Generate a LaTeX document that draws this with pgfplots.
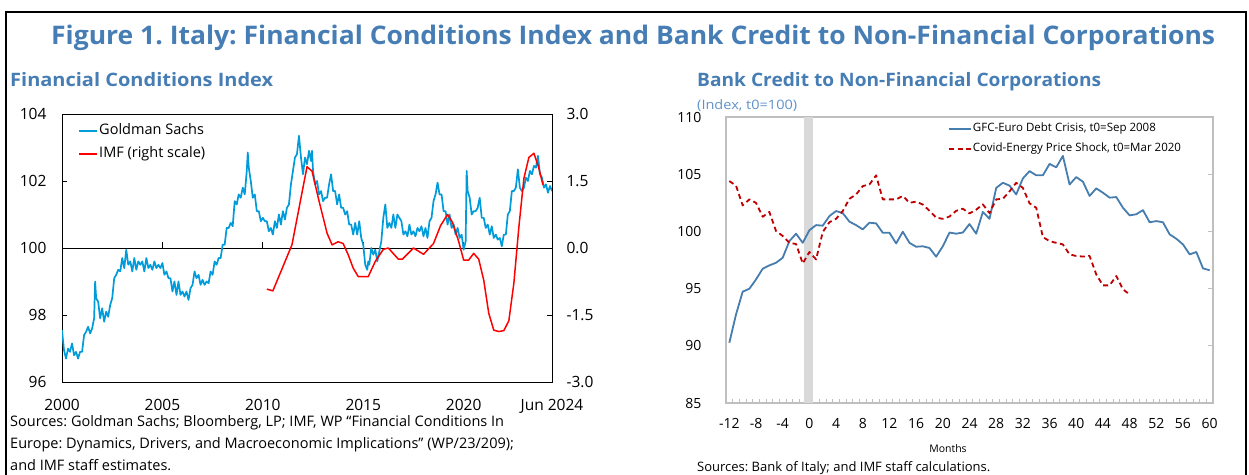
\documentclass[border=0pt]{standalone}
\usepackage{pgfplots}
\pgfplotsset{compat=1.18}
\usepackage{fontspec}
\setmainfont{Open Sans}
\usepackage{graphicx}
\definecolor{titleblue}{RGB}{70,125,180}
\definecolor{lightblue}{RGB}{95,145,200}
\definecolor{gsblue}{RGB}{0,155,218}
\definecolor{imfred}{RGB}{255,0,0}
\definecolor{gfcblue}{RGB}{70,125,175}
\definecolor{covred}{RGB}{192,0,0}
\definecolor{framegray}{RGB}{191,191,191}
\definecolor{bandgray}{RGB}{217,217,217}
\newcommand{\fs}[1]{\fontsize{#1}{#1}\selectfont}
\frenchspacing

\pgfplotstableread{
x y
2000.0 97.55
2000.1 96.95
2000.2 96.7
2000.3 97.0
2000.4 96.9
2000.5 97.15
2000.6 96.8
2000.7 96.9
2000.8 96.7
2000.9 96.9
2001.0 96.9
2001.1 97.4
2001.2 97.5
2001.3 97.65
2001.4 97.45
2001.5 97.6
2001.6 97.9
2001.65 99.0
2001.7 98.5
2001.8 98.4
2001.9 97.9
2002.0 98.2
2002.1 97.8
2002.2 98.1
2002.3 97.95
2002.4 98.3
2002.5 98.5
2002.6 99.1
2002.7 99.2
2002.8 99.35
2002.9 99.3
2003.0 99.7
2003.1 99.4
2003.2 99.95
2003.3 99.5
2003.4 99.6
2003.5 99.3
2003.6 99.7
2003.7 99.35
2003.8 99.6
2003.9 99.5
2004.0 99.6
2004.1 99.3
2004.2 99.7
2004.3 99.4
2004.4 99.5
2004.5 99.35
2004.6 99.6
2004.7 99.4
2004.8 99.5
2004.9 99.4
2005.0 99.55
2005.1 99.2
2005.2 99.3
2005.3 99.1
2005.4 99.1
2005.5 98.7
2005.6 99.0
2005.7 98.6
2005.8 99.0
2005.9 98.6
2006.0 98.7
2006.1 98.55
2006.2 98.7
2006.3 98.45
2006.4 98.8
2006.5 98.9
2006.6 99.3
2006.7 99.1
2006.8 99.2
2006.9 98.9
2007.0 99.05
2007.1 98.9
2007.2 99.0
2007.3 98.95
2007.4 99.3
2007.5 99.2
2007.6 99.6
2007.7 99.5
2007.8 99.7
2007.9 99.7
2008.0 100.1
2008.1 100.1
2008.2 100.6
2008.3 100.6
2008.4 100.75
2008.5 100.65
2008.6 101.4
2008.7 101.3
2008.8 101.6
2008.9 101.5
2009.0 101.8
2009.1 101.6
2009.2 102.3
2009.25 102.85
2009.3 102.4
2009.4 102.0
2009.5 101.5
2009.6 101.6
2009.7 101.1
2009.8 101.1
2009.9 100.8
2010.0 100.9
2010.1 100.8
2010.2 100.8
2010.3 100.5
2010.4 100.6
2010.5 100.4
2010.6 100.8
2010.7 100.6
2010.8 101.0
2010.9 100.7
2011.0 101.1
2011.1 100.85
2011.2 101.2
2011.3 101.3
2011.4 101.9
2011.5 102.3
2011.6 102.7
2011.7 102.8
2011.8 103.35
2011.9 102.7
2012.0 102.2
2012.1 102.7
2012.2 102.5
2012.3 102.9
2012.4 102.6
2012.45 102.9
2012.5 102.3
2012.6 101.9
2012.7 102.0
2012.8 101.6
2012.9 101.7
2013.0 101.4
2013.1 101.5
2013.2 101.5
2013.3 101.9
2013.4 102.2
2013.5 101.7
2013.6 101.7
2013.7 101.3
2013.8 101.6
2013.9 101.2
2014.0 101.2
2014.1 101.0
2014.2 101.1
2014.3 100.7
2014.4 100.7
2014.5 100.4
2014.6 100.75
2014.7 100.4
2014.8 100.8
2014.9 100.3
2015.0 100.1
2015.1 99.5
2015.2 99.35
2015.25 99.6
2015.3 99.5
2015.4 100.0
2015.5 99.8
2015.6 99.95
2015.7 99.6
2015.8 99.9
2015.9 100.2
2016.0 100.9
2016.1 101.3
2016.2 100.6
2016.3 100.75
2016.4 100.6
2016.5 101.0
2016.6 100.6
2016.7 101.0
2016.8 100.9
2016.9 100.8
2017.0 100.4
2017.1 100.5
2017.2 100.35
2017.3 100.7
2017.4 100.4
2017.5 100.5
2017.6 100.35
2017.7 100.6
2017.8 100.5
2017.9 100.65
2018.0 100.35
2018.1 100.6
2018.2 100.3
2018.3 100.8
2018.4 100.9
2018.5 101.4
2018.6 101.6
2018.7 101.95
2018.8 101.6
2018.9 101.6
2019.0 101.1
2019.1 101.1
2019.2 100.7
2019.3 101.0
2019.4 100.6
2019.5 100.7
2019.6 100.4
2019.7 100.6
2019.8 100.3
2019.9 100.4
2020.0 99.95
2020.1 100.2
2020.15 102.3
2020.2 101.7
2020.3 101.5
2020.4 101.0
2020.5 101.1
2020.6 101.1
2020.7 101.2
2020.8 101.5
2020.9 100.9
2021.0 100.9
2021.1 100.6
2021.2 100.7
2021.3 100.4
2021.4 100.65
2021.5 100.3
2021.6 100.4
2021.7 100.25
2021.8 100.3
2021.9 100.05
2022.0 100.4
2022.1 100.4
2022.2 101.0
2022.3 101.1
2022.4 101.7
2022.5 101.7
2022.6 101.8
2022.7 102.35
2022.8 101.8
2022.9 101.7
2023.0 101.8
2023.1 102.1
2023.2 102.0
2023.3 102.3
2023.4 102.2
2023.5 102.45
2023.6 102.4
2023.7 102.75
2023.8 102.2
2023.9 102.1
2024.0 101.8
2024.1 101.9
2024.2 101.65
2024.3 101.85
2024.4 101.7
}\gsdata

\pgfplotstableread{
x y
2010.2 -0.92
2010.5 -0.96
2011.45 0.07
2012.2 1.82
2012.45 1.72
2012.8 1.05
2013.2 0.33
2013.45 0.07
2013.75 0.14
2014.0 0.10
2014.25 -0.15
2014.5 -0.45
2014.75 -0.64
2015.25 -0.64
2015.6 -0.3
2016.0 -0.03
2016.25 0.0
2016.75 -0.25
2016.95 -0.25
2017.5 0.0
2018.0 -0.14
2018.5 0.10
2018.85 0.5
2019.2 0.75
2019.45 0.57
2019.75 0.15
2020.0 -0.27
2020.25 -0.27
2020.5 -0.12
2020.75 -0.25
2021.0 -0.72
2021.25 -1.46
2021.5 -1.84
2021.75 -1.87
2022.0 -1.85
2022.25 -1.63
2022.5 -0.79
2022.75 0.47
2023.0 1.56
2023.25 2.03
2023.5 2.12
2023.75 1.78
2023.95 1.41
}\imfdata

\pgfplotstableread{
x y
-12 90.27
-11 92.74
-10 94.73
-9 94.99
-8 95.8
-7 96.74
-6 97.03
-5 97.26
-4 97.7
-3 99.15
-2 99.8
-1 99.0
0 100.1
1 100.55
2 100.5
3 101.34
4 101.78
5 101.6
6 100.85
7 100.55
8 100.17
9 100.76
10 100.7
11 99.88
12 99.88
13 98.95
14 99.97
15 99.0
16 98.66
17 98.7
18 98.55
19 97.79
20 98.7
21 99.9
22 99.8
23 99.9
24 100.64
25 99.8
26 101.7
27 101.1
28 103.8
29 104.25
30 104.0
31 103.23
32 104.63
33 105.27
34 104.9
35 104.9
36 105.9
37 105.6
38 106.6
39 104.1
40 104.75
41 104.34
42 103.1
43 103.76
44 103.38
45 102.95
46 103.0
47 102.07
48 101.4
49 101.5
50 101.86
51 100.8
52 100.9
53 100.8
54 99.74
55 99.36
56 98.86
57 97.99
58 98.2
59 96.77
60 96.6
}\gfcdata

\pgfplotstableread{
x y
-12 104.4
-11 104.0
-10 102.27
-9 102.8
-8 102.5
-7 101.28
-6 101.7
-5 100.03
-4 99.6
-3 99.0
-2 98.9
-1 97.2
0 98.2
1 97.55
2 99.94
3 100.8
4 101.1
5 101.78
6 102.85
7 103.23
8 103.96
9 104.1
10 104.9
11 102.8
12 102.8
13 102.8
14 103.1
15 102.5
16 102.6
17 102.35
18 101.8
19 101.2
20 101.1
21 101.3
22 101.8
23 101.98
24 101.57
25 101.9
26 102.36
27 101.6
28 102.8
29 102.85
30 103.5
31 104.25
32 103.8
33 102.45
34 102.07
35 99.5
36 99.15
37 99.0
38 98.86
39 97.99
40 97.85
41 97.8
42 97.85
43 96.24
44 95.28
45 95.28
46 96.1
47 94.93
48 94.5
}\coviddata

\begin{document}
\begin{tikzpicture}[x=1pt,y=1pt]
\useasboundingbox (0,0) rectangle (1249,474);
\draw[line width=2pt] (6,-10) -- (6,462) -- (1246,462) -- (1246,-10);
\node[anchor=base west, text=titleblue, font=\bfseries\fs{25.6}, inner sep=0] at (51,429.7) {\resizebox{1164pt}{\height}{Figure 1. Italy: Financial Conditions Index and Bank Credit to Non-Financial Corporations}};
\node[anchor=base west, text=titleblue, font=\bfseries\fs{18.5}, inner sep=0] at (10,387.3) {\resizebox{263pt}{\height}{Financial Conditions Index}};
\node[anchor=base west, text=titleblue, font=\bfseries\fs{18.5}, inner sep=0] at (697,387.3) {\resizebox{404pt}{\height}{Bank Credit to Non-Financial Corporations}};
\node[anchor=base west, text=lightblue, font=\fs{13}, inner sep=0] at (697,364.7) {\resizebox{100pt}{\height}{(Index, t0=100)}};
\node[anchor=base west, font=\fs{14.5}, inner sep=0] at (10,48) {Sources: Goldman Sachs; Bloomberg, LP; IMF, WP “Financial Conditions In};
\node[anchor=base west, font=\fs{14.5}, inner sep=0] at (10,26) {Europe: Dynamics, Drivers, and Macroeconomic Implications” (WP/23/209);};
\node[anchor=base west, font=\fs{14.5}, inner sep=0] at (10,4) {and IMF staff estimates.};
\node[anchor=base west, font=\fs{13}, inner sep=0] at (697,3) {Sources: Bank of Italy; and IMF staff calculations.};
\node[font=\fs{10.5}, inner sep=0] at (948,25) {Months};

% ---------------- left panel, left scale
\begin{axis}[
  at={(62pt,92pt)}, anchor=south west,
  width=490pt, height=268pt, scale only axis,
  xmin=2000, xmax=2024.4, ymin=96, ymax=104,
  ytick={96,98,100,102,104},
  xtick={2000,2005,2010,2015,2020,2024.4},
  xticklabels={2000,2005,2010,2015,2020,Jun 2024},
  major x tick style={draw=none},
  ytick pos=left, tick align=inside,
  major tick length=5pt,
  axis line style={black, line width=0.9pt},
  ytick style={black, line width=0.9pt},
  ticklabel style={font=\fs{15.5}},
  /pgf/number format/assume math mode=true,
  yticklabel style={xshift=-12pt},
  xticklabel style={yshift=-14pt},
]
\draw[black, line width=0.9pt] (axis cs:2000,100) -- (axis cs:2024.4,100);
\draw[black, line width=0.9pt] (axis cs:2005,100) -- ++(0pt,6pt);
\draw[black, line width=0.9pt] (axis cs:2010,100) -- ++(0pt,6pt);
\draw[black, line width=0.9pt] (axis cs:2015,100) -- ++(0pt,6pt);
\draw[black, line width=0.9pt] (axis cs:2020,100) -- ++(0pt,6pt);
\addplot[gsblue, line width=1.7pt, line join=round] table[x=x,y=y] {\gsdata};
\end{axis}

% ---------------- left panel, right scale
\begin{axis}[
  at={(62pt,92pt)}, anchor=south west,
  width=490pt, height=268pt, scale only axis,
  xmin=2000, xmax=2024.4, ymin=-3, ymax=3,
  axis x line=none, axis y line*=right,
  ytick={-3,-1.5,0,1.5,3},
  tick align=inside, major tick length=5pt,
  axis line style={black, line width=0.9pt},
  ytick style={black, line width=0.9pt},
  ticklabel style={font=\fs{15.5}},
  yticklabel style={xshift=11pt, /pgf/number format/.cd, fixed, fixed zerofill, precision=1, assume math mode=true},
  legend style={at={(rel axis cs:0.0327,1)}, anchor=north west, yshift=-8.7pt, draw=none, fill=none, inner sep=0pt, font=\fs{14.5}, row sep=5.6pt, nodes={inner sep=1pt, text height=11pt, text depth=4pt}},
  legend cell align=left,
  legend image code/.code={\draw[#1] (0pt,0pt) -- (18pt,0pt);},
]
\addlegendimage{draw=gsblue, line width=2pt}
\addlegendentry{Goldman Sachs}
\addplot[imfred, line width=1.5pt, line join=round] table[x=x,y=y] {\imfdata};
\addlegendentry{IMF (right scale)}
\end{axis}

% ---------------- right panel
\begin{axis}[
  at={(726pt,71pt)}, anchor=south west,
  width=487pt, height=286pt, scale only axis,
  xmin=-12.5, xmax=60.5, ymin=85, ymax=110,
  ytick={85,90,95,100,105,110},
  xtick={-12,-8,...,60},
  xticklabels={-12,-8,-4,0,4,8,12,16,20,24,28,32,36,40,44,48,52,56,60},
  minor xtick={-11.5,-10.5,...,59.5},
  major x tick style={draw=none},
  minor x tick style={framegray, line width=0.8pt},
  minor tick length=4pt,
  xtick pos=left,
  ytick pos=right, yticklabel pos=left,
  tick align=inside, major tick length=5pt,
  axis line style={framegray, line width=1.2pt},
  ytick style={framegray, line width=1pt},
  ticklabel style={font=\fs{14}},
  /pgf/number format/assume math mode=true,
  yticklabel style={xshift=-21pt},
  xticklabel style={yshift=-12pt},
  legend style={at={(rel axis cs:0.4558,1)}, anchor=north west, yshift=-4.5pt, draw=none, fill=none, inner sep=0pt, font=\fs{11.5}, row sep=6pt, nodes={inner sep=1pt, text height=9pt, text depth=3pt}},
  legend cell align=left,
  legend image code/.code={\draw[#1] (0pt,0pt) -- (22pt,0pt);},
]
\addplot[draw=none, fill=bandgray, forget plot] coordinates {(-0.8,85) (-0.8,110) (0.5,110) (0.5,85)} -- cycle;
\addplot[gfcblue, line width=1.8pt, line join=round] table[x=x,y=y] {\gfcdata};
\addlegendentry{GFC-Euro Debt Crisis, t0=Sep 2008}
\addplot[covred, line width=1.8pt, dash pattern=on 5pt off 3.5pt, line join=round] table[x=x,y=y] {\coviddata};
\addlegendentry{Covid-Energy Price Shock, t0=Mar 2020}
\end{axis}
\end{tikzpicture}
\end{document}
